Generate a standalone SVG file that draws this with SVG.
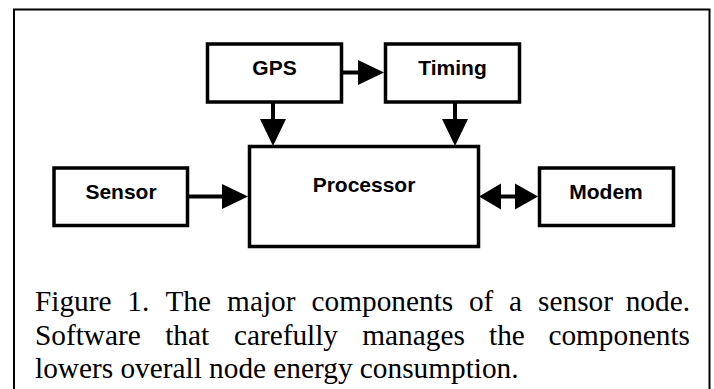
<svg xmlns="http://www.w3.org/2000/svg" width="714" height="389" viewBox="0 0 714 389">
<style>
.box{fill:#fff;stroke:#000;stroke-width:3.5}
.lbl{font-family:"Liberation Sans",Arial,sans-serif;font-weight:bold;font-size:21px;fill:#000;text-anchor:middle}
.cap{font-family:"Liberation Serif","Times New Roman",serif;font-size:29.3px;fill:#000}
.ln{stroke:#000;stroke-width:4;fill:none}
.hd{fill:#000;stroke:none}
</style>
<rect x="0" y="0" width="714" height="389" fill="#fff"/>
<rect id="frame" x="14" y="9.5" width="695.5" height="400" fill="none" stroke="#000" stroke-width="2"/>
<g id="connectors">
<line class="ln" x1="343" y1="72.5" x2="360" y2="72.5"/>
<polygon class="hd" points="358,60 384,72.5 358,85"/>
<line class="ln" x1="273" y1="103" x2="273" y2="121"/>
<polygon class="hd" points="260,119 286,119 273,146"/>
<line class="ln" x1="455" y1="103" x2="455" y2="121"/>
<polygon class="hd" points="442,119 468,119 455,146"/>
<line class="ln" x1="189" y1="196.5" x2="224" y2="196.5"/>
<polygon class="hd" points="222,184 248,196.5 222,209"/>
<line class="ln" x1="499" y1="196.5" x2="517" y2="196.5"/>
<polygon class="hd" points="479,196.5 501,183.5 501,209.5"/>
<polygon class="hd" points="515,183.5 538,196.5 515,209.5"/>
</g>
<g id="gps">
<rect class="box" x="207.5" y="44" width="134" height="58"/>
<text class="lbl" x="274.5" y="75">GPS</text>
</g>
<g id="timing">
<rect class="box" x="385.5" y="44" width="134" height="58"/>
<text class="lbl" x="452.5" y="75">Timing</text>
</g>
<g id="processor">
<rect class="box" x="249.5" y="146.5" width="229" height="100"/>
<text class="lbl" x="364" y="192">Processor</text>
</g>
<g id="sensor">
<rect class="box" x="54" y="168" width="133.5" height="57.5"/>
<text class="lbl" x="121" y="199">Sensor</text>
</g>
<g id="modem">
<rect class="box" x="539.5" y="168" width="134" height="57.5"/>
<text class="lbl" x="606" y="199">Modem</text>
</g>
<g id="caption">
<text class="cap" y="311"><tspan x="35">Figure</tspan><tspan x="127.3">1.</tspan><tspan x="165.4">The</tspan><tspan x="227.1">major</tspan><tspan x="311.6">components</tspan><tspan x="468.9">of</tspan><tspan x="509.1">a</tspan><tspan x="538.1">sensor</tspan><tspan x="625.7">node.</tspan></text>
<text class="cap" y="344.5"><tspan x="35">Software</tspan><tspan x="165.2">that</tspan><tspan x="233.9">carefully</tspan><tspan x="362.3">manages</tspan><tspan x="489">the</tspan><tspan x="548.4">components</tspan></text>
<text class="cap" x="35" y="378">lowers overall node energy consumption.</text>
</g>
</svg>
